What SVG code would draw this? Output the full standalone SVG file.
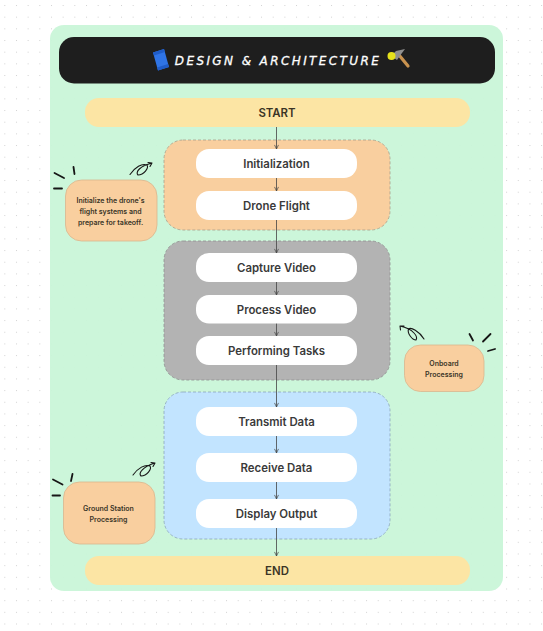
<svg xmlns="http://www.w3.org/2000/svg" width="543" height="631" viewBox="0 0 543 631">
<style>
text{font-family:Inter,"Liberation Sans",sans-serif;text-anchor:middle}
.bar{fill:#fce5a4}
.bar-t{font-size:11.400px;font-weight:600;fill:#3a3426}
.box{fill:#fff}
.box-t{font-size:11.400px;font-weight:600;fill:#3a3a3a}
.grp{stroke-width:.8;stroke-dasharray:3 2}
.note{fill:#f9cf9f;stroke:#d9b68e;stroke-width:.8}
.note-t{font-size:7px;font-weight:600;fill:#3a3528}
.conn{stroke:#444;stroke-width:.8;fill:none;marker-end:url(#a)}
.ink{stroke:#161616;fill:none;stroke-linecap:round;stroke-linejoin:round}
.tick{stroke-width:1.800}
.curl{stroke-width:1.100}
</style>
<defs>
<pattern id="dots" x="4.300" y="5" width="11.670" height="11.670" patternUnits="userSpaceOnUse"><rect width="1" height="1" fill="#d2d2d2"/></pattern>
<marker id="a" markerWidth="6" markerHeight="5" refX="4.600" refY="2.500" orient="auto" markerUnits="userSpaceOnUse"><path d="M.5 .5L4.600 2.500L.5 4.500" fill="none" stroke="#444" stroke-width=".7"/></marker>
</defs>
<rect width="543" height="631" fill="#fff"/>
<rect width="543" height="631" fill="url(#dots)"/>
<rect x="50" y="25" width="453" height="566" rx="14" fill="#c9f6d8" fill-opacity=".95"/>
<g id="header">
<rect x="59" y="37" width="436" height="46.500" rx="15" fill="#1e1e1e"/>
<g id="scroll-emoji"><path d="M153 52.500L164 49L169 67L158 70.500Z" fill="#2f74e6"/><path d="M153 52.500L164 49L165 52L154 55.500ZM157 67.500L168 64L169 67L158 70.500Z" fill="#1f5cc8"/></g>
<text x="278" y="65" style="font-family:'DejaVu Sans',sans-serif;font-size:12px;font-style:italic;letter-spacing:2.400px;stroke:#fff;stroke-width:.3px" fill="#fff">DESIGN &amp; ARCHITECTURE</text>
<g id="hammer-emoji"><path d="M399 55L408 66" stroke="#c8924f" stroke-width="3.200" stroke-linecap="round"/><path d="M388 59L396 51L405 49L402 53L397 60L394 58Z" fill="#8f8f8f"/><circle cx="391.500" cy="56" r="4" fill="#e6e21c"/></g>
</g>
<g id="start"><rect class="bar" x="85" y="98" width="385" height="29" rx="14"/><text class="bar-t" x="277" y="116.500">START</text></g>
<g id="group-orange"><rect class="grp" x="164" y="140" width="226" height="90" rx="19" fill="#f9cf9f" stroke="#a9a08c"/></g>
<g id="group-gray"><rect class="grp" x="164" y="241" width="226" height="139" rx="19" fill="#b3b3b3" stroke="#8f8f8f"/></g>
<g id="group-blue"><rect class="grp" x="164" y="392" width="226" height="147" rx="19" fill="#c2e4ff" stroke="#8ba4bb"/></g>
<g id="connectors">
<path class="conn" d="M276.500 127V149"/>
<path class="conn" d="M276.500 178V191"/>
<path class="conn" d="M276.500 220V253"/>
<path class="conn" d="M276.500 282V295"/>
<path class="conn" d="M276.500 323V336"/>
<path class="conn" d="M276.500 365V407"/>
<path class="conn" d="M276.500 436V453"/>
<path class="conn" d="M276.500 482V499"/>
<path class="conn" d="M276.500 528V556"/>
</g>
<g id="initialization"><rect class="box" x="196" y="149" width="161" height="29" rx="13"/><text class="box-t" x="276.500" y="168">Initialization</text></g>
<g id="drone-flight"><rect class="box" x="196" y="191" width="161" height="29" rx="13"/><text class="box-t" x="276.500" y="210">Drone Flight</text></g>
<g id="capture-video"><rect class="box" x="196" y="253" width="161" height="29" rx="13"/><text class="box-t" x="276.500" y="272">Capture Video</text></g>
<g id="process-video"><rect class="box" x="196" y="295" width="161" height="28.500" rx="13"/><text class="box-t" x="276.500" y="313.500">Process Video</text></g>
<g id="performing-tasks"><rect class="box" x="196" y="336" width="161" height="29" rx="13"/><text class="box-t" x="276.500" y="355">Performing Tasks</text></g>
<g id="transmit-data"><rect class="box" x="196" y="407" width="161" height="29" rx="13"/><text class="box-t" x="276.500" y="426">Transmit Data</text></g>
<g id="receive-data"><rect class="box" x="196" y="453" width="161" height="29" rx="13"/><text class="box-t" x="276.500" y="472">Receive Data</text></g>
<g id="display-output"><rect class="box" x="196" y="499" width="161" height="29" rx="13"/><text class="box-t" x="276.500" y="518">Display Output</text></g>
<g id="end"><rect class="bar" x="85" y="556" width="385" height="29" rx="14"/><text class="bar-t" x="277" y="574.500">END</text></g>
<g id="note-init">
<rect class="note" x="65.500" y="180" width="91.500" height="61" rx="16"/>
<text class="note-t" x="110.500" y="202.500">Initialize the drone's</text>
<text class="note-t" x="110.500" y="213.500">flight systems and</text>
<text class="note-t" x="110.500" y="224.500">prepare for takeoff.</text>
<path class="ink tick" d="M54.500 173L64 178M73.500 167L74.500 174M54 188.500H62"/>
<path class="ink curl" d="M130 174.500C135 167 142 163 147 165C149 168 144 175 138 175C135 172 140 166 152 163M148 162.500L152 163L150 166.500"/>
</g>
<g id="note-onboard">
<rect class="note" x="404.500" y="345" width="79.500" height="46.500" rx="16"/>
<text class="note-t" x="444" y="365.500">Onboard</text>
<text class="note-t" x="444" y="376.500">Processing</text>
<path class="ink tick" d="M469.500 334L473 340.500M490.500 334L483 341.500M495 349L488 351"/>
<path class="ink curl" d="M424 339C419 331 411 327 408.500 329C407 333 412 340 416 340C418 337 414 329 400 326M400.500 330L400 326L404 326"/>
</g>
<g id="note-ground">
<rect class="note" x="63.500" y="482" width="91.500" height="62" rx="16"/>
<text class="note-t" x="108.500" y="510.500">Ground Station</text>
<text class="note-t" x="108.500" y="521.500">Processing</text>
<path class="ink tick" d="M53 479.500L62.500 484.500M72.500 474L71 481M52.500 495.500H60"/>
<path class="ink curl" d="M133 475C138 468 145 464 150 466C152 469 147 476 141 476C138 473 143 467 154.500 463M151 462.500L155 463L153 466.500"/>
</g>
</svg>
